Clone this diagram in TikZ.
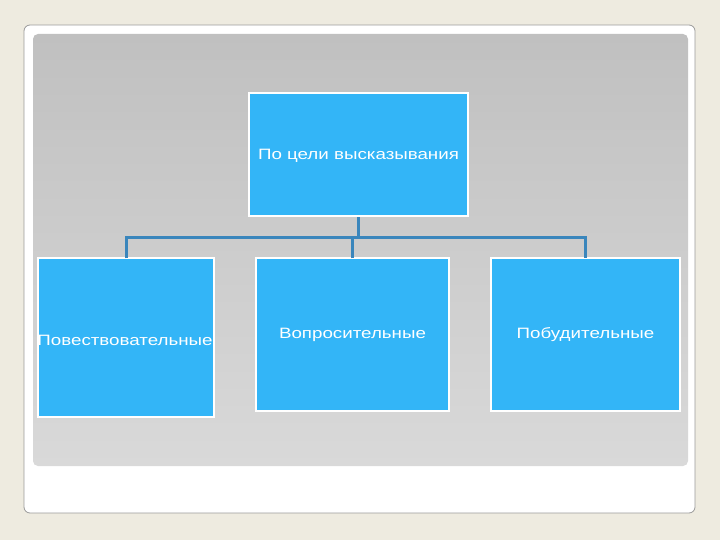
\documentclass[tikz,border=0pt]{standalone}
\usepackage{fontspec}
\setmainfont{Liberation Sans}[FakeStretch=1.25]
\begin{document}
\begin{tikzpicture}[x=1pt,y=-1pt,
  box/.style={draw=white,line width=2.5pt,fill=boxblue,inner sep=0pt},
  lbl/.style={text=white,font=\fontsize{15}{17}\selectfont,inner sep=0pt},
  conn/.style={draw=connblue,line width=3pt}]
\definecolor{bg}{HTML}{EEEBE0}
\definecolor{boxblue}{HTML}{33B5F7}
\definecolor{connblue}{HTML}{3A86BC}
\definecolor{gtop}{HTML}{C0C0C0}
\definecolor{gbot}{HTML}{D9D9D9}
\useasboundingbox (0,0) rectangle (720,540);
\fill[bg] (0,0) rectangle (720,540);
\draw[draw=black!40,fill=white,line width=0.8pt,rounded corners=6pt] (24,25) rectangle (695,513);
\shade[top color=gtop,bottom color=gbot,rounded corners=5pt] (33,34) rectangle (688,466);
\node[box,minimum width=219pt,minimum height=123pt] (top) at (358.5,154.5) {};
\node[lbl] (t0) at (358.5,156) {По цели высказывания};
\node[box,minimum width=176pt,minimum height=159pt] (c1) at (126,337.5) {};
\node[lbl] (t1) at (125,340) {Повествовательные};
\node[box,minimum width=193pt,minimum height=153pt] (c2) at (352.5,334.5) {};
\node[lbl] (t2) at (352.5,335) {Вопросительные};
\node[box,minimum width=189pt,minimum height=153pt] (c3) at (585.5,334.5) {};
\node[lbl] (t3) at (585.5,335) {Побудительные};
\coordinate (j) at (358.5,237);
\draw[conn] (top.south) -- (j);
\draw[conn] ([yshift=-1.5pt]c1.north) -- (c1.north |- j) -- (c3.north |- j) -- ([yshift=-1.5pt]c3.north);
\draw[conn] ([yshift=-1.5pt]c2.north) -- (c2.north |- j);
\end{tikzpicture}
\end{document}
